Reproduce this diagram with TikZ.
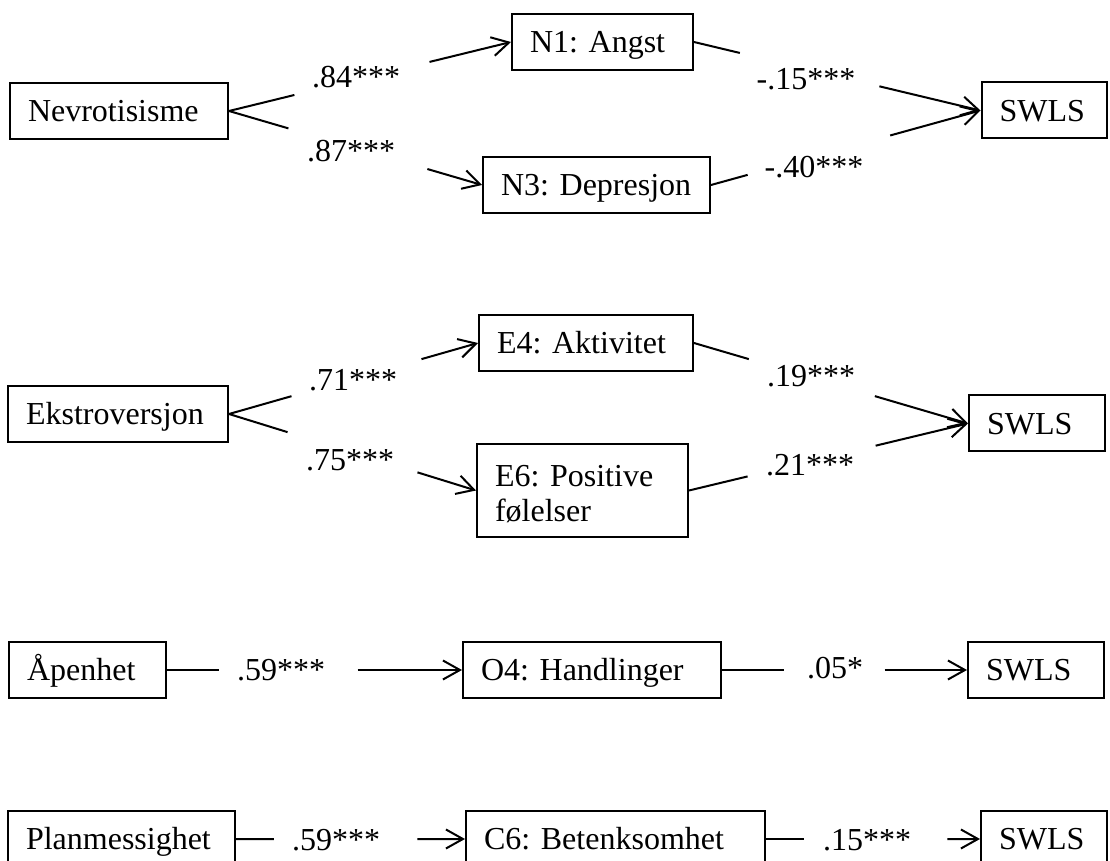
\documentclass[tikz,border=0pt]{standalone}
\usepackage{fontspec}
\setmainfont{Liberation Serif}
\usetikzlibrary{arrows.meta, calc}
\frenchspacing

\begin{document}
\begin{tikzpicture}[
    x=0.5pt, y=-0.5pt,
    font=\fontsize{16}{17.5}\selectfont,
    tallbox/.style = {draw, line width=1pt, align=left, text width=#1,
                      minimum height=28pt, inner xsep=9pt, inner ysep=0pt},
    box/.style = {tallbox=#1, text height=13pt, text depth=2.4pt},
    ln/.style  = {line width=1pt},
    arr/.style = {ln, -{Straight Barb[length=8.5pt, width=9.5pt]}},
    lbl/.style = {inner sep=0pt}
]
\path[use as bounding box, clip] (0,0) rectangle (1110,861);

% --- Rad 1: Nevrotisisme ---------------------------------------------
\node[box=91pt]   (nev) at (119,111)    {Nevrotisisme};
\node[box=72.5pt] (n1)  at (602.5,42)   {N1: Angst};
\node[box=95.5pt] (n3)  at (596.5,185)  {N3: Depresjon};
\node[box=44.5pt] (swA) at (1044,110.5) {SWLS};

\node[lbl] (l84) at (356,77)  {.84***};
\node[lbl] (l87) at (351,151) {.87***};
\node[lbl] (l15) at (806,79)  {-.15***};
\node[lbl] (l40) at (814,167) {-.40***};

\draw[ln]  (nev.east) -- ($(nev.east)!.232!(n1.west)$);
\draw[arr] ($(nev.east)!.711!(n1.west)$) -- (n1.west);
\draw[ln]  (nev.east) -- ($(nev.east)!.235!(n3.west)$);
\draw[arr] ($(nev.east)!.784!(n3.west)$) -- (n3.west);
\draw[ln]  (n1.east) -- ($(n1.east)!.16!(swA.west)$);
\draw[arr] ($(n1.east)!.647!(swA.west)$) -- (swA.west);
\draw[ln]  (n3.east) -- ($(n3.east)!.136!(swA.west)$);
\draw[arr] ($(n3.east)!.665!(swA.west)$) -- (swA.west);

% --- Rad 2: Ekstroversjon --------------------------------------------
\node[box=92pt]   (eks) at (118,414)    {Ekstroversjon};
\node[box=89pt]   (e4)  at (586,343)    {E4: Aktivitet};
\node[tallbox=87.5pt, text depth=14.5pt, minimum height=46.5pt]
  (e6) at (582.5,490.5) {E6: Positive\\følelser};
\node[box=50pt]   (swB) at (1037,423.5) {SWLS};

\node[lbl] (l71) at (353,380) {.71***};
\node[lbl] (l75) at (350,460) {.75***};
\node[lbl] (l19) at (811,376) {.19***};
\node[lbl] (l21) at (810,465) {.21***};

\draw[ln]  (eks.east) -- ($(eks.east)!.251!(e4.west)$);
\draw[arr] ($(eks.east)!.773!(e4.west)$) -- (e4.west);
\draw[ln]  (eks.east) -- ($(eks.east)!.237!(e6.west)$);
\draw[arr] ($(eks.east)!.763!(e6.west)$) -- (e6.west);
\draw[ln]  (e4.east) -- ($(e4.east)!.2!(swB.west)$);
\draw[arr] ($(e4.east)!.66!(swB.west)$) -- (swB.west);
\draw[ln]  (e6.east) -- ($(e6.east)!.21!(swB.west)$);
\draw[arr] ($(e6.east)!.669!(swB.west)$) -- (swB.west);

% --- Rad 3: Aapenhet -------------------------------------------------
\node[box=60.5pt] (ape) at (87.5,670) {Åpenhet};
\node[box=111pt]  (o4)  at (592,670)  {O4: Handlinger};
\node[box=50pt]   (swC) at (1036,670) {SWLS};

\node[lbl] (l59a) at (281,670) {.59***};
\node[lbl] (l05)  at (835,668) {.05*};

\draw[ln]  (ape.east) -- ($(ape.east)!.175!(o4.west)$);
\draw[arr] ($(ape.east)!.646!(o4.west)$) -- (o4.west);
\draw[ln]  (o4.east) -- ($(o4.east)!.255!(swC.west)$);
\draw[arr] ($(o4.east)!.664!(swC.west)$) -- (swC.west);

% --- Rad 4: Planmessighet (nederst, kuttet av kanten) ----------------
\node[box=95.5pt]  (plan) at (121.5,839) {Planmessighet};
\node[box=131.5pt] (c6)   at (615.5,839) {C6: Betenksomhet};
\node[box=45pt]    (swD)  at (1044,839)  {SWLS};

\node[lbl] (l59b) at (336,840) {.59***};
\node[lbl] (l15b) at (867,840) {.15***};

\draw[ln]  (plan.east) -- ($(plan.east)!.165!(c6.west)$);
\draw[arr] ($(plan.east)!.792!(c6.west)$) -- (c6.west);
\draw[ln]  (c6.east) -- ($(c6.east)!.177!(swD.west)$);
\draw[arr] ($(c6.east)!.847!(swD.west)$) -- (swD.west);
\end{tikzpicture}
\end{document}
